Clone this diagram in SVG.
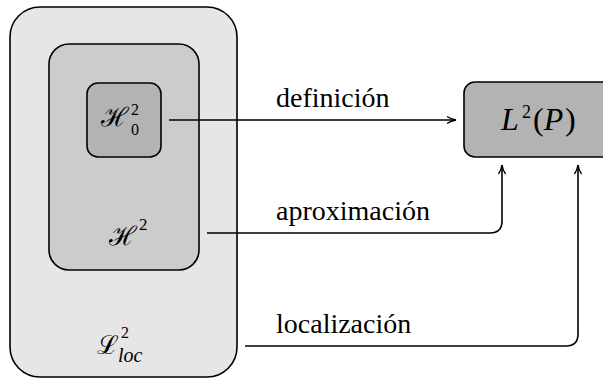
<svg xmlns="http://www.w3.org/2000/svg" width="603" height="383" viewBox="0 0 603 383">
<defs>
<style>
.box{stroke:#000;stroke-width:1.6}
.lbl{font-family:"Liberation Serif","Times New Roman",serif;font-size:28px;fill:#000}
.cal{font-family:"DejaVu Serif","Noto Sans",serif;font-size:26px}
.it{font-family:"Liberation Serif","Times New Roman",serif;font-style:italic}
.rm{font-family:"Liberation Serif","Times New Roman",serif;font-style:normal}
.m{fill:#000;font-family:"Liberation Serif","Times New Roman",serif}
.conn{fill:none;stroke:#000;stroke-width:1.6}
</style>
<marker id="arr" markerWidth="12" markerHeight="10" refX="10" refY="5" orient="auto" markerUnits="userSpaceOnUse">
<path d="M1,1.5 Q5,4.2 10,5 Q5,5.8 1,8.5" fill="none" stroke="#000" stroke-width="1.4"/>
</marker>
</defs>
<g id="node-Lloc">
<rect class="box" x="10" y="7" width="227" height="370" rx="30" fill="#e6e6e6"/>
<text class="m" x="97" y="354"><tspan class="cal">ℒ</tspan><tspan class="rm" x="121" y="338" font-size="16">2</tspan><tspan class="it" x="118" y="362" font-size="20">loc</tspan></text>
</g>
<g id="node-H2">
<rect class="box" x="49" y="44" width="150" height="226" rx="20" fill="#cccccc"/>
<text class="m" x="109" y="245"><tspan class="cal">ℋ</tspan><tspan class="rm" x="139" y="230" font-size="17">2</tspan></text>
</g>
<g id="node-H02">
<rect class="box" x="87" y="83" width="74" height="74" rx="11" fill="#b3b3b3"/>
<text class="m" x="101" y="126"><tspan class="cal">ℋ</tspan><tspan class="rm" x="131" y="115" font-size="16">2</tspan><tspan class="rm" x="131" y="135" font-size="16">0</tspan></text>
</g>
<g id="node-L2P">
<rect class="box" x="464" y="82" width="160" height="75" rx="11" fill="#b3b3b3"/>
<text class="m" x="501" y="130" font-size="32"><tspan class="it">L</tspan><tspan class="rm" x="522" y="118" font-size="18">2</tspan><tspan class="rm" x="533" y="130">(</tspan><tspan class="it">P</tspan><tspan class="rm" x="565">)</tspan></text>
</g>
<g id="connectors">
<path class="conn" d="M169,120 H456" marker-end="url(#arr)"/>
<path class="conn" d="M207,233 H490 Q502,233 502,221 V165" marker-end="url(#arr)"/>
<path class="conn" d="M245,346 H566 Q578,346 578,334 V165" marker-end="url(#arr)"/>
<text class="lbl" x="276" y="107">definición</text>
<text class="lbl" x="276" y="220">aproximación</text>
<text class="lbl" x="276" y="333">localización</text>
</g>
</svg>
